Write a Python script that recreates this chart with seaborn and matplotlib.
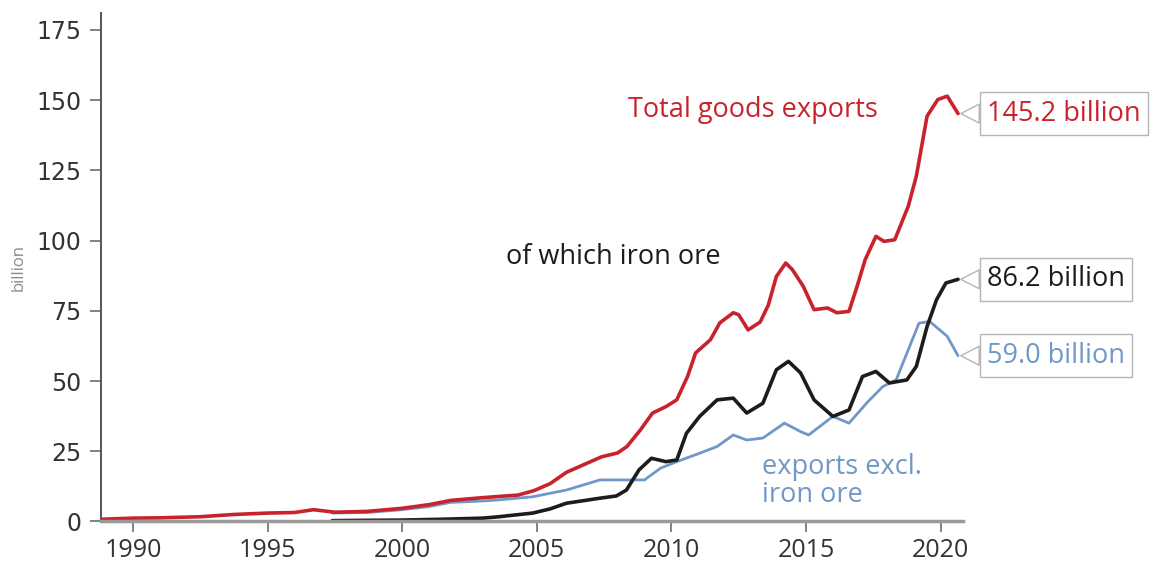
import matplotlib
matplotlib.use("Agg")
import matplotlib.pyplot as plt
import seaborn as sns
import pandas as pd

# ---- data ----
total_years = [1988.85, 1990.0, 1991.0, 1992.5, 1993.75, 1995.0, 1996.0, 1996.7, 1997.5, 1998.7,
               2000.0, 2001.0, 2001.8, 2003.0, 2004.3, 2004.9, 2005.5, 2006.1, 2007.4, 2008.0,
               2008.35, 2008.85, 2009.3, 2009.8, 2010.2, 2010.6, 2010.9, 2011.45, 2011.8, 2012.3,
               2012.5, 2012.85, 2013.3, 2013.6, 2013.9, 2014.25, 2014.5, 2014.9, 2015.3, 2015.8,
               2016.15, 2016.6, 2016.9, 2017.2, 2017.6, 2017.9, 2018.3, 2018.8, 2019.1, 2019.5,
               2019.9, 2020.25, 2020.65]
total_vals = [0.8, 1.2, 1.3, 1.7, 2.5, 3.0, 3.2, 4.2, 3.3, 3.6,
              4.7, 6.0, 7.5, 8.5, 9.4, 11.0, 13.5, 17.5, 23.0, 24.4,
              26.7, 32.6, 38.6, 40.9, 43.3, 51.6, 60.0, 64.7, 70.7, 74.3,
              73.6, 68.2, 71.0, 77.0, 87.2, 92.0, 89.6, 83.7, 75.4, 76.0,
              74.3, 74.8, 83.7, 93.2, 101.5, 99.7, 100.3, 112.2, 122.9, 144.3,
              150.2, 151.4, 145.2]

iron_years = [1997.4, 1998.5, 2000.0, 2001.5, 2003.0, 2003.6, 2004.85, 2005.5, 2006.1, 2007.35,
              2007.96, 2008.33, 2008.8, 2009.26, 2009.8, 2010.2, 2010.56, 2011.05, 2011.7, 2012.3,
              2012.8, 2013.4, 2013.9, 2014.35, 2014.8, 2015.3, 2016.0, 2016.6, 2017.1, 2017.6,
              2018.1, 2018.75, 2019.1, 2019.5, 2019.85, 2020.2, 2020.65]
iron_vals = [0.3, 0.4, 0.5, 0.8, 1.2, 1.7, 3.0, 4.5, 6.5, 8.3,
             9.1, 11.2, 18.4, 22.5, 21.3, 21.9, 31.4, 37.4, 43.3, 43.9,
             38.6, 42.1, 54.0, 57.0, 52.9, 43.3, 37.4, 39.7, 51.6, 53.4,
             49.3, 50.4, 55.2, 69.4, 78.9, 84.9, 86.2]

excl_years = [1997.4, 1998.7, 2000.0, 2001.0, 2001.8, 2003.0, 2003.6, 2004.85, 2006.1, 2007.35,
              2008.3, 2009.0, 2009.6, 2010.2, 2011.05, 2011.7, 2012.3, 2012.8, 2013.4, 2014.2,
              2014.8, 2015.1, 2016.0, 2016.6, 2017.25, 2017.85, 2018.35, 2018.75, 2019.2, 2019.6,
              2020.25, 2020.65]
excl_vals = [3.0, 3.2, 4.2, 5.3, 6.8, 7.3, 7.7, 8.8, 11.2, 14.8,
             14.8, 14.8, 19.0, 21.3, 24.3, 26.7, 30.8, 29.0, 29.7, 35.0,
             32.0, 30.8, 37.4, 35.0, 42.1, 48.0, 50.4, 59.9, 70.6, 71.2,
             65.9, 59.0]

y_ticks = [0, 25, 50, 75, 100, 125, 150, 175]
x_ticks = [1990, 1995, 2000, 2005, 2010, 2015, 2020]
end_labels = ["145.2 billion", "86.2 billion", "59.0 billion"]

RED = "#c8232c"
BLACK = "#1c1c1c"
BLUE = "#6f98c6"

sns.set_style("ticks")
plt.rcParams["font.family"] = ["Open Sans", "DejaVu Sans"]

fig = plt.figure(figsize=(11.56, 5.65), dpi=100)
ax = fig.add_axes([0.0874, 0.077, 0.746, 0.9])

df_excl = pd.DataFrame({"year": excl_years, "value": excl_vals})
df_iron = pd.DataFrame({"year": iron_years, "value": iron_vals})
df_total = pd.DataFrame({"year": total_years, "value": total_vals})

sns.lineplot(data=df_excl, x="year", y="value", ax=ax, color=BLUE, lw=2.0, sort=False, estimator=None)
sns.lineplot(data=df_iron, x="year", y="value", ax=ax, color=BLACK, lw=2.6, sort=False, estimator=None)
sns.lineplot(data=df_total, x="year", y="value", ax=ax, color=RED, lw=2.6, sort=False, estimator=None)

ax.set_xlim(1988.81, 2020.85)
ax.set_ylim(0, 181)
ax.set_yticks(y_ticks)
ax.set_xticks(x_ticks)
ax.set_yticklabels([str(t) for t in y_ticks], fontsize=17, color="#333333", family=["DejaVu Sans"])
ax.set_xticklabels([str(t) for t in x_ticks], fontsize=18, color="#333333", family=["Open Sans"])
ax.set_xlabel("")
ax.set_ylabel("billion", fontsize=12, color="#8a8a8a")
ax.yaxis.set_label_coords(-0.086, 0.5)

for s in ["top", "right"]:
    ax.spines[s].set_visible(False)
ax.spines["left"].set_color("#555555")
ax.spines["left"].set_linewidth(1.4)
ax.spines["bottom"].set_color("#9a9a9a")
ax.spines["bottom"].set_linewidth(2.5)
ax.tick_params(axis="y", length=8, width=1.3, color="#777777", pad=6)
ax.tick_params(axis="x", length=8, width=1.3, color="#777777", pad=4)

ax.text(2008.4, 146.3, "Total goods exports", color=RED, fontsize=19.5, ha="left", va="center",
        fontweight="medium")
ax.text(2003.85, 94.3, "of which iron ore", color=BLACK, fontsize=19.5, ha="left", va="center",
        fontweight="medium")
ax.text(2013.36, 14.4, "exports excl.\niron ore", color=BLUE, fontsize=19.5, ha="left", va="center",
        linespacing=1.0, fontweight="medium")

for yrs, vals, lab, col in [(total_years, total_vals, end_labels[0], RED),
                            (iron_years, iron_vals, end_labels[1], BLACK),
                            (excl_years, excl_vals, end_labels[2], BLUE)]:
    ax.annotate(lab, xy=(yrs[-1], vals[-1]), xytext=(29, 0), textcoords="offset pixels",
                ha="left", va="center", fontsize=19.5, color=col, annotation_clip=False,
                fontweight="medium",
                bbox=dict(boxstyle="square,pad=0.27", fc="white", ec="#b5b5b5", lw=1.0),
                arrowprops=dict(arrowstyle="wedge,tail_width=0.7,shrink_factor=0.5",
                                fc="white", ec="#b5b5b5", lw=1.0, shrinkA=0, shrinkB=2))

fig.savefig("out.png", dpi=100)
